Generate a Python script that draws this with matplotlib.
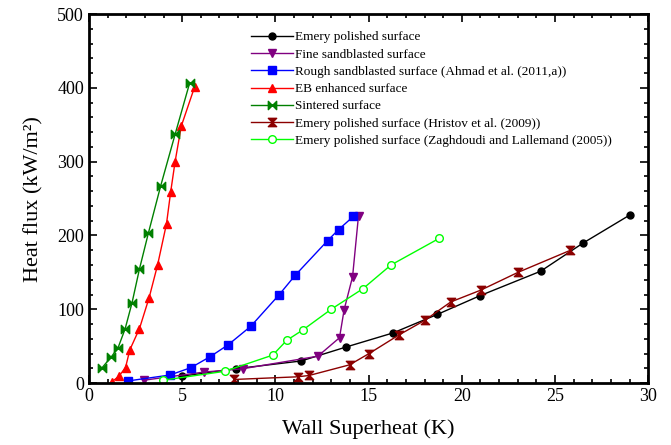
import numpy as np
import matplotlib
matplotlib.use('Agg')
import matplotlib.pyplot as plt
from matplotlib.path import Path
from matplotlib.ticker import MultipleLocator

plt.rcParams['font.family'] = ['Liberation Serif', 'DejaVu Serif']

# data
emery_x = [5.0, 7.87, 11.38, 13.80, 16.31, 18.68, 21.0, 24.23, 26.49, 29.03]
emery_y = [9.5, 19.5, 30, 49, 68, 93, 118.7, 151.6, 189.5, 228]

fine_x = [2.96, 6.17, 8.25, 12.28, 13.44, 13.69, 14.14, 14.46]
fine_y = [4, 15, 19.5, 36.5, 61.5, 99.7, 144, 227]

rough_x = [2.10, 4.34, 5.47, 6.51, 7.47, 8.68, 10.21, 11.06, 12.80, 13.39, 14.19]
rough_y = [3, 11, 21, 36, 52, 77, 120, 146, 193, 208, 226]

eb_x = [1.24, 1.61, 1.96, 2.19, 2.71, 3.23, 3.68, 4.16, 4.38, 4.62, 4.95, 5.67]
eb_y = [2, 9.5, 21, 45, 74, 116, 160, 216, 258.5, 300, 348, 401.5]

sint_x = [0.70, 1.20, 1.56, 1.94, 2.31, 2.71, 3.19, 3.85, 4.62, 5.40]
sint_y = [20.8, 35.7, 47.9, 73.6, 108.8, 154.8, 203.5, 267.5, 337, 406.5]

hristov_x = [7.80, 11.2, 11.81, 13.98, 15.02, 16.61, 18.01, 19.41, 21.02, 23.01, 25.83]
hristov_y = [5, 8.6, 10.4, 24.8, 40, 65, 85, 110, 126, 150, 180]

zagh_x = [3.98, 7.28, 9.86, 10.61, 11.47, 12.99, 14.7, 16.2, 18.78]
zagh_y = [4, 16, 38, 58, 72, 100, 128, 160, 196]

labels = ['Emery polished surface',
          'Fine sandblasted surface',
          'Rough sandblasted surface (Ahmad et al. (2011,a))',
          'EB enhanced surface',
          'Sintered surface',
          'Emery polished surface (Hristov et al. (2009))',
          'Emery polished surface (Zaghdoudi and Lallemand (2005))']

# bowtie style markers
bowtie = Path([(-1, -1), (-1, 1), (0, 0), (-1, -1), (1, -1), (1, 1), (0, 0), (1, -1)],
              [Path.MOVETO, Path.LINETO, Path.LINETO, Path.CLOSEPOLY,
               Path.MOVETO, Path.LINETO, Path.LINETO, Path.CLOSEPOLY])
hourglass = Path([(-1, 1), (1, 1), (0, 0), (-1, 1), (-1, -1), (1, -1), (0, 0), (-1, -1)],
                 [Path.MOVETO, Path.LINETO, Path.LINETO, Path.CLOSEPOLY,
                  Path.MOVETO, Path.LINETO, Path.LINETO, Path.CLOSEPOLY])

fig = plt.figure(figsize=(6.71, 4.45), dpi=100)
ax = fig.add_axes([0.1326, 0.139, 0.8334, 0.8295])

lw = 1.0
ax.plot(emery_x, emery_y, '-', color='black', marker='o', ms=5, lw=lw, label=labels[0])
ax.plot(fine_x, fine_y, '-', color='#800080', marker='v', ms=6, lw=lw, label=labels[1])
ax.plot(rough_x, rough_y, '-', color='blue', marker='s', ms=5.5, lw=lw, label=labels[2])
ax.plot(eb_x, eb_y, '-', color='red', marker='^', ms=6, lw=lw, label=labels[3])
ax.plot(sint_x, sint_y, '-', color='green', marker=bowtie, ms=6, lw=lw, label=labels[4])
ax.plot(hristov_x, hristov_y, '-', color='#8b0000', marker=hourglass, ms=6, lw=lw, label=labels[5])
ax.plot(zagh_x, zagh_y, '-', color='#00ff00', marker='o', ms=5.5, mfc='white', mew=1.0,
        lw=lw, label=labels[6])

ax.set_xlim(0, 30)
ax.set_ylim(0, 500)
ax.xaxis.set_major_locator(MultipleLocator(5))
ax.xaxis.set_minor_locator(MultipleLocator(1))
ax.yaxis.set_major_locator(MultipleLocator(100))
ax.yaxis.set_minor_locator(MultipleLocator(20))
ax.tick_params(which='both', direction='in', top=True, right=True, labelsize=13, width=1.2)
ax.tick_params(which='major', length=6)
ax.tick_params(which='minor', length=3)
for s in ax.spines.values():
    s.set_linewidth(2)

ax.set_xlabel('Wall Superheat (K)', fontsize=16, labelpad=10)
ax.set_ylabel('Heat flux (kW/m²)', fontsize=16, labelpad=10)

ax.legend(loc='upper left', bbox_to_anchor=(0.27, 0.982), frameon=False, fontsize=9.5,
          handlelength=3.2, handletextpad=0.2, labelspacing=0.38, borderpad=0.3)

fig.savefig('out.png', dpi=100)
